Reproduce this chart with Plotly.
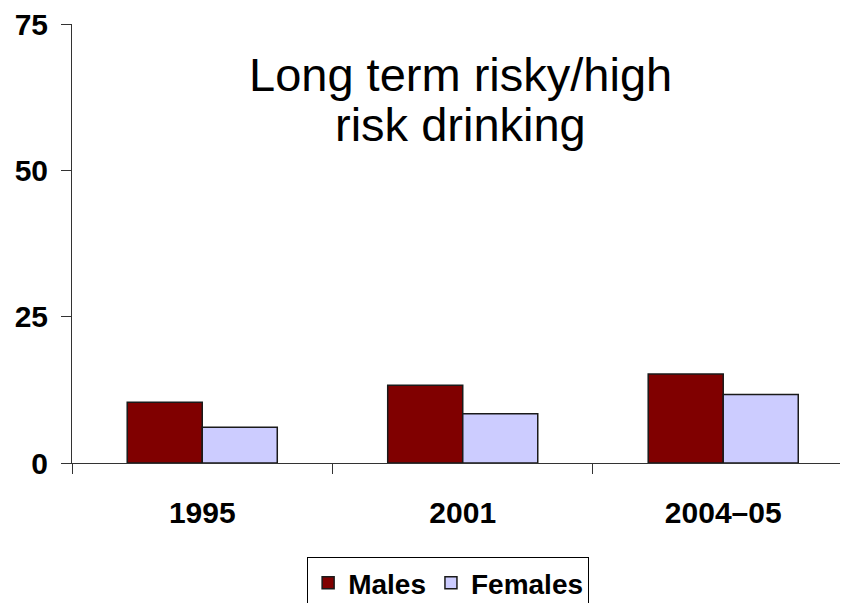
import plotly.graph_objects as go

years = ["1995", "2001", "2004–05"]
males = [10.4, 13.3, 15.2]
females = [6.1, 8.4, 11.7]
y_ticks = [0, 25, 50, 75]
title_lines = ["Long term risky/high", "risk drinking"]

font_family = "Liberation Sans, Arial, sans-serif"

fig = go.Figure()
fig.add_trace(go.Bar(x=years, y=males, name="Males",
                     marker=dict(color="#800000", line=dict(color="#1a1a1a", width=1.5))))
fig.add_trace(go.Bar(x=years, y=females, name="Females",
                     marker=dict(color="#CCCCFF", line=dict(color="#1a1a1a", width=1.5))))

# title sits inside the plot, two separate lines to keep tight spacing
for txt, ypos in zip(title_lines, [0.884, 0.772]):
    fig.add_annotation(text=txt, xref="paper", yref="paper", x=0.5, y=ypos,
                       xanchor="center", yanchor="middle", showarrow=False,
                       font=dict(family=font_family, size=47, color="black"))

# page body has an 8px margin, so the figure is 8px smaller than the window
fig.update_layout(
    width=840, height=595,
    margin=dict(l=64, r=0, t=16, b=140, autoexpand=False),
    paper_bgcolor="white", plot_bgcolor="white",
    barmode="group", bargap=0.424, bargroupgap=0,
    font=dict(family=font_family, color="black"),
    showlegend=True,
    legend=dict(orientation="h", x=0.303, y=-0.214, xanchor="left", yanchor="top",
                bordercolor="black", borderwidth=1, bgcolor="white",
                font=dict(size=28, weight="bold", family=font_family),
                traceorder="normal"),
)

fig.update_xaxes(range=[-0.5, 2.479], showline=True, linecolor="#333333", linewidth=1,
                 ticks="outside", tickson="boundaries", ticklen=10, tickcolor="#333333",
                 tickfont=dict(size=30, weight="bold"), ticklabelstandoff=23,
                 showgrid=False, zeroline=False, fixedrange=True, automargin=False)
fig.update_yaxes(range=[0, 75], tickvals=y_ticks, showline=True, linecolor="#333333",
                 linewidth=1, ticks="outside", ticklen=10, tickcolor="#333333",
                 tickfont=dict(size=30, weight="bold"), ticklabelstandoff=7,
                 ticklabeloverflow="allow",
                 showgrid=False, zeroline=False, fixedrange=True, automargin=False)

fig.write_html("out.html")
